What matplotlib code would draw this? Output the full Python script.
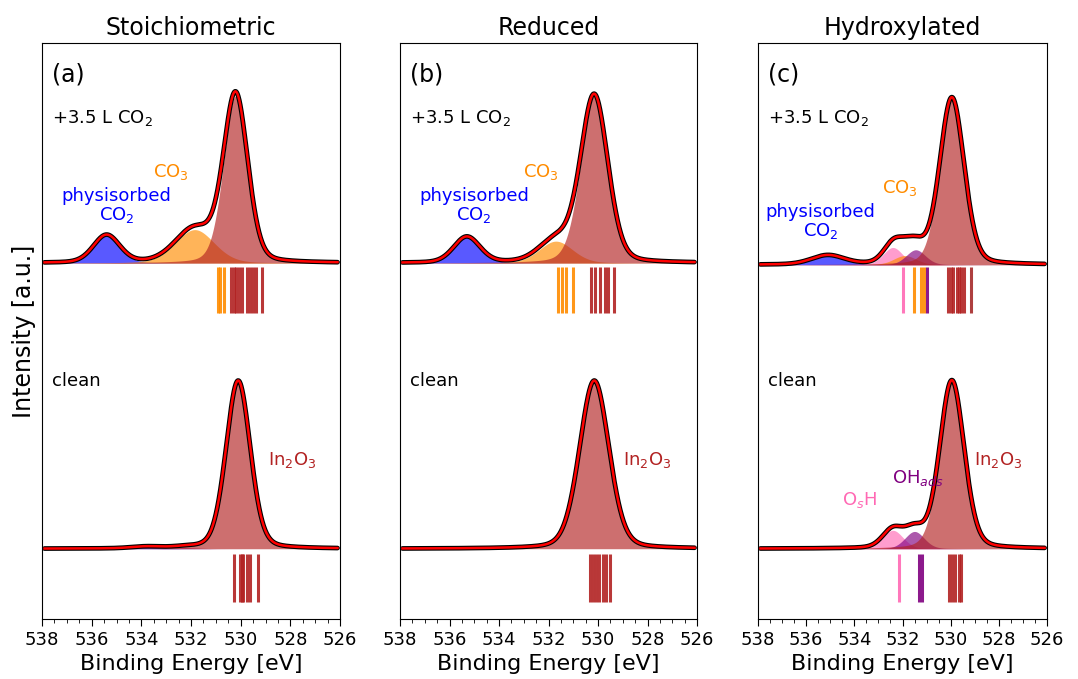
import matplotlib
matplotlib.use('Agg')
import matplotlib.pyplot as plt
import numpy as np
from matplotlib.ticker import MultipleLocator

# peak parameters: (color, center eV, height, fwhm)
# top = +3.5 L CO2, bottom = clean ; heights in panel units (panel height = 1)
titles = ["Stoichiometric", "Reduced", "Hydroxylated"]
panel_tags = ["(a)", "(b)", "(c)"]

top_base = [0.618, 0.618, 0.615]
bot_base = [0.122, 0.122, 0.122]

top_peaks = [
    [("blue", 535.40, 0.048, 1.25), ("darkorange", 531.85, 0.058, 1.85), ("firebrick", 530.20, 0.290, 1.15)],
    [("blue", 535.30, 0.045, 1.25), ("darkorange", 531.70, 0.038, 1.60), ("firebrick", 530.15, 0.290, 1.30)],
    [("blue", 535.10, 0.016, 1.60), ("hotpink", 532.40, 0.030, 0.95), ("darkorange", 531.90, 0.016, 1.10),
     ("purple", 531.45, 0.026, 0.95), ("firebrick", 529.95, 0.290, 1.20)],
]
bot_peaks = [
    [("blue", 533.80, 0.003, 1.40), ("purple", 532.20, 0.002, 1.20), ("firebrick", 530.10, 0.292, 1.15)],
    [("firebrick", 530.15, 0.292, 1.40)],
    [("hotpink", 532.40, 0.032, 1.00), ("purple", 531.50, 0.030, 0.95), ("firebrick", 529.95, 0.292, 1.20)],
]

# calculated binding energies (stick lines)
top_sticks = [
    [("darkorange", [530.92, 530.84, 530.68]),
     ("firebrick", [530.38, 530.28, 530.18, 530.06, 529.96, 529.73, 529.61, 529.49, 529.37, 529.13])],
    [("darkorange", [531.63, 531.45, 531.28, 531.00]),
     ("firebrick", [530.30, 530.11, 529.90, 529.73, 529.59, 529.35])],
    [("hotpink", [532.00]), ("darkorange", [531.51, 531.23, 531.09]), ("purple", [531.00]),
     ("firebrick", [530.12, 530.00, 529.90, 529.75, 529.65, 529.56, 529.46]), ("brown", [529.15])],
]
bot_sticks = [
    [("firebrick", [530.27, 530.03, 529.96, 529.90, 529.75, 529.61, 529.29])],
    [("firebrick", [530.32, 530.20, 530.08, 529.96, 529.80, 529.68, 529.50])],
    [("hotpink", [532.13]), ("purple", [531.30, 531.19]),
     ("firebrick", [530.06, 529.94, 529.83, 529.67, 529.58])],
]

# text labels: (text, x eV, y, color)
labels = [
    [("physisorbed\nCO$_2$", 535.0, 0.717, "blue"), ("CO$_3$", 532.8, 0.776, "darkorange"),
     ("In$_2$O$_3$", 527.9, 0.276, "firebrick")],
    [("physisorbed\nCO$_2$", 535.0, 0.717, "blue"), ("CO$_3$", 532.3, 0.776, "darkorange"),
     ("In$_2$O$_3$", 528.0, 0.276, "firebrick")],
    [("physisorbed\nCO$_2$", 535.4, 0.689, "blue"), ("CO$_3$", 532.1, 0.748, "darkorange"),
     ("In$_2$O$_3$", 528.0, 0.276, "firebrick"), ("OH$_{ads}$", 531.35, 0.245, "purple"),
     ("O$_s$H", 533.8, 0.207, "hotpink")],
]

axes_px = [(42, 298), (400, 297), (758, 289)]


def pvoigt(x, c, h, w, eta=0.2):
    s = w / 2.3548
    g = np.exp(-0.5 * ((x - c) / s) ** 2)
    l = 1.0 / (1.0 + ((x - c) / (w / 2)) ** 2)
    return h * (eta * l + (1 - eta) * g)


x = np.linspace(537.9, 526.1, 1200)

fig = plt.figure(figsize=(10.78, 6.79), dpi=100)

for i in range(3):
    left, width = axes_px[i]
    ax = fig.add_axes([left / 1078, 60 / 679, width / 1078, 576 / 679])

    for base, peaks, sticks, (s0, s1) in [(top_base[i], top_peaks[i], top_sticks[i], (0.531, 0.611)),
                                          (bot_base[i], bot_peaks[i], bot_sticks[i], (0.030, 0.113))]:
        total = np.zeros_like(x)
        for col, c, h, w in peaks:
            y = pvoigt(x, c, h, w)
            total += y
            ax.fill_between(x, base, base + y, color=col, alpha=0.65, lw=0)
        ax.plot(x, base + total, color="black", lw=3.4, solid_capstyle="round")
        ax.plot(x, base + total, color="red", lw=1.8)
        for col, pos in sticks:
            ax.vlines(pos, s0, s1, color=col, lw=2.2, alpha=0.9)

    for txt, tx, ty, col in labels[i]:
        ax.text(tx, ty, txt, color=col, ha="center", va="center", fontsize=13, linespacing=1.0)

    ax.text(0.035, 0.945, panel_tags[i], transform=ax.transAxes, fontsize=17, va="center")
    ax.text(0.035, 0.870, "+3.5 L CO$_2$", transform=ax.transAxes, fontsize=13, va="center")
    ax.text(0.035, 0.413, "clean", transform=ax.transAxes, fontsize=13, va="center")

    ax.set_xlim(538, 526)
    ax.set_ylim(0, 1)
    ax.set_yticks([])
    ax.xaxis.set_major_locator(MultipleLocator(2))
    ax.xaxis.set_minor_locator(MultipleLocator(0.5))
    ax.tick_params(axis="x", labelsize=13, length=5)
    ax.tick_params(axis="x", which="minor", length=3)
    ax.set_xlabel("Binding Energy [eV]", fontsize=16)
    ax.set_title(titles[i], fontsize=17, pad=6)
    if i == 0:
        ax.set_ylabel("Intensity [a.u.]", fontsize=17)

plt.savefig("out.png", dpi=100)
